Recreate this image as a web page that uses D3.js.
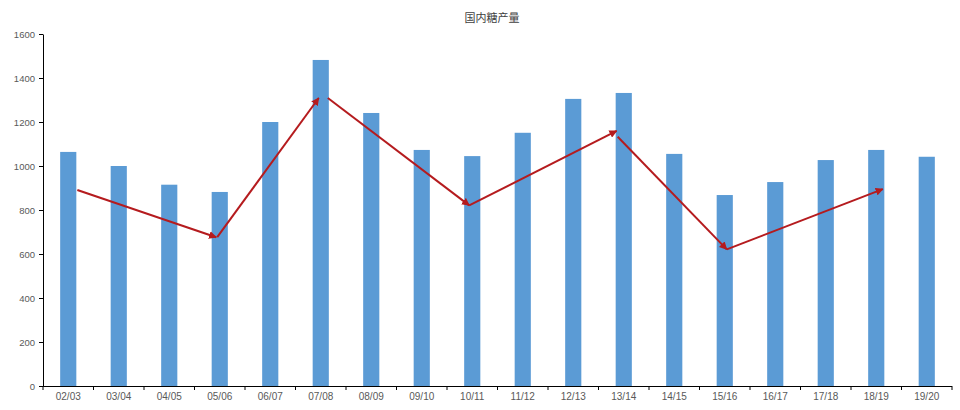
<!DOCTYPE html>
<html>
<head>
<meta charset="utf-8">
<script src="https://cdn.jsdelivr.net/npm/d3@7"></script>
<style>
  html, body { margin: 0; padding: 0; background: #fff; }
  svg { display: block; }
</style>
</head>
<body>
<svg id="chart" width="960" height="410"></svg>
<script>
const title = "国内糖产量";
const categories = ["02/03","03/04","04/05","05/06","06/07","07/08","08/09","09/10","10/11","11/12","12/13","13/14","14/15","15/16","16/17","17/18","18/19","19/20"];
const production = [1064,1000,915,882,1200,1482,1241,1073,1045,1151,1305,1332,1055,868,927,1027,1073,1042];
const yTicks = [0,200,400,600,800,1000,1200,1400,1600];
// trend arrows: position along the category axis (index units) and value
const arrowFromPos = [0.18, 2.95, 5.14, 7.94, 10.88, 13.04];
const arrowFromVal = [891, 677, 1309, 821, 1133, 621];
const arrowToPos   = [2.93, 4.96, 7.94, 10.86, 13.04, 16.13];
const arrowToVal   = [676, 1309, 821, 1160, 621, 895];

const svg = d3.select("#chart");
const x0 = 43, x1 = 952, yTop = 34, yBot = 386;

const x = d3.scaleBand().domain(categories).range([x0, x1]).paddingInner(0.68).paddingOuter(0.34);
const xi = d3.scaleLinear().domain([-0.5, categories.length - 0.5]).range([x0, x1]);
const y = d3.scaleLinear().domain([0, 1600]).range([yBot, yTop]);

const font = "'Liberation Sans', Arial, sans-serif";

svg.append("text")
  .attr("x", 492).attr("y", 22)
  .attr("text-anchor", "middle")
  .attr("font-family", "'Noto Sans CJK SC', sans-serif")
  .attr("font-size", 11)
  .attr("fill", "#404040")
  .text(title);

// bars
svg.append("g").selectAll("rect").data(production).join("rect")
  .attr("x", (d, i) => x(categories[i]))
  .attr("width", x.bandwidth())
  .attr("y", d => y(d))
  .attr("height", d => yBot - y(d))
  .attr("fill", "#5B9BD5");

// y axis
const yAxis = svg.append("g").attr("transform", `translate(${x0},0)`)
  .call(d3.axisLeft(y).tickValues(yTicks).tickFormat(d3.format("d")).tickSize(4).tickPadding(4).tickSizeOuter(0));
yAxis.select(".domain").attr("stroke", "#000");
yAxis.selectAll(".tick line").attr("stroke", "#000");
yAxis.selectAll("text").attr("font-family", font).attr("font-size", 9.5).attr("fill", "#595959");

// x axis with ticks at category boundaries
const xAxis = svg.append("g").attr("transform", `translate(0,${yBot})`)
  .call(d3.axisBottom(x).tickSize(0).tickPadding(7));
xAxis.select(".domain").attr("d", `M${x0},0.5H${x1}`).attr("stroke", "#000");
xAxis.selectAll("text").attr("font-family", font).attr("font-size", 10).attr("fill", "#595959");
const bounds = d3.range(categories.length + 1).map(i => xi(i - 0.5));
xAxis.append("g").selectAll("line").data(bounds).join("line")
  .attr("x1", d => d).attr("x2", d => d)
  .attr("y1", 0).attr("y2", 4)
  .attr("stroke", "#000");

// arrows
const defs = svg.append("defs");
defs.append("marker")
  .attr("id", "arrow")
  .attr("viewBox", "0 0 10 10")
  .attr("refX", 9).attr("refY", 5)
  .attr("markerWidth", 4).attr("markerHeight", 4)
  .attr("markerUnits", "strokeWidth")
  .attr("orient", "auto")
  .append("path").attr("d", "M0,0L10,5L0,10z").attr("fill", "#B51B1E");

svg.append("g").selectAll("line").data(arrowFromPos).join("line")
  .attr("x1", (d, i) => xi(arrowFromPos[i]))
  .attr("y1", (d, i) => y(arrowFromVal[i]))
  .attr("x2", (d, i) => xi(arrowToPos[i]))
  .attr("y2", (d, i) => y(arrowToVal[i]))
  .attr("stroke", "#B51B1E")
  .attr("stroke-width", 2)
  .attr("marker-end", "url(#arrow)");
</script>
</body>
</html>
